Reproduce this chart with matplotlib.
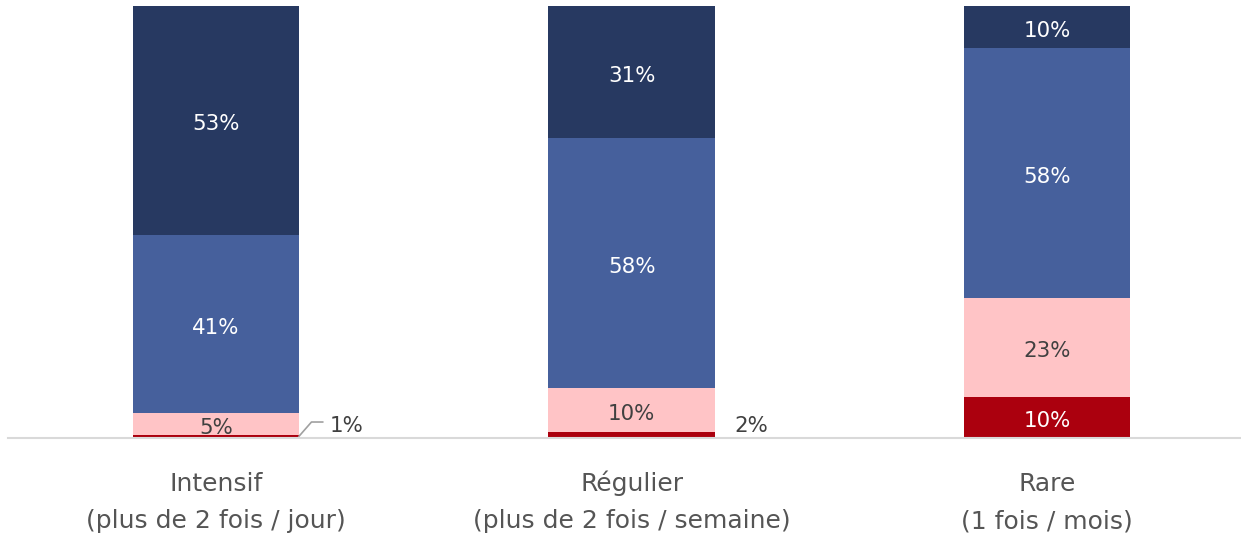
import matplotlib
matplotlib.use("Agg")
import matplotlib.pyplot as plt

cat_line1 = ["Intensif", "Régulier", "Rare"]
cat_line2 = ["(plus de 2 fois / jour)", "(plus de 2 fois / semaine)", "(1 fois / mois)"]
# stacked segments, bottom to top (in %)
red_vals = [0.8, 1.4, 9.5]
pink_vals = [5.0, 10.2, 22.9]
blue_vals = [41.2, 57.9, 57.9]
navy_vals = [53.0, 30.5, 9.7]
red_labels = ["1%", "2%", "10%"]
pink_labels = ["5%", "10%", "23%"]
blue_labels = ["41%", "58%", "58%"]
navy_labels = ["53%", "31%", "10%"]

plt.rcParams['font.family'] = ['DejaVu Sans']

fig = plt.figure(figsize=(12.41, 5.35), dpi=100)
ax = fig.add_axes([8/1241, (535-438)/535, 1-8/1241, 432/535])

x = list(range(len(cat_line1)))
w = 0.4
colors = ["#AB000E", "#FFC4C6", "#46609C", "#273961"]
series = [red_vals, pink_vals, blue_vals, navy_vals]
labels = [red_labels, pink_labels, blue_labels, navy_labels]
txtcol = ["white", "#404040", "white", "white"]
fs = 15.4

bottoms = [0.0] * len(x)
for s, (vals, col, labs, tc) in enumerate(zip(series, colors, labels, txtcol)):
    ax.bar(x, vals, w, bottom=bottoms, color=col, edgecolor="none")
    for i in range(len(x)):
        v = vals[i]
        if s == 0 and v < 5:
            # small label outside the bar
            if i == 0:
                ax.plot([x[i] + w/2, x[i] + 0.23, x[i] + 0.257],
                        [bottoms[i] + v/2, 3.7, 3.7], color="#A0A0A0", lw=1.2)
                ax.text(x[i] + 0.274, 1.4, labs[i], ha="left", va="baseline",
                        fontsize=fs, color="#404040")
            else:
                ax.text(x[i] + 0.248, 1.4, labs[i], ha="left", va="baseline",
                        fontsize=fs, color="#404040")
        else:
            yc = bottoms[i] + v/2 - 0.9
            ax.text(x[i], yc, labs[i], ha="center", va="center",
                    fontsize=fs, color=tc)
        bottoms[i] += v

ax.set_xlim(-0.5, 2.466)
ax.set_ylim(0, 100)
for sp in ["top", "right", "left"]:
    ax.spines[sp].set_visible(False)
ax.spines["bottom"].set_color("#D9D9D9")
ax.spines["bottom"].set_linewidth(1.5)
ax.set_yticks([])
ax.set_xticks(x)
ax.set_xticklabels([""] * len(x))
ax.tick_params(axis="x", length=0)

tr = ax.get_xaxis_transform()
for i in range(len(x)):
    ax.text(x[i], -53/432, cat_line1[i], transform=tr, ha="center", va="baseline",
            fontsize=18, color="#555555", clip_on=False)
    ax.text(x[i], -90/432, cat_line2[i], transform=tr, ha="center", va="baseline",
            fontsize=18, color="#555555", clip_on=False)

fig.savefig("out.png", dpi=100)
